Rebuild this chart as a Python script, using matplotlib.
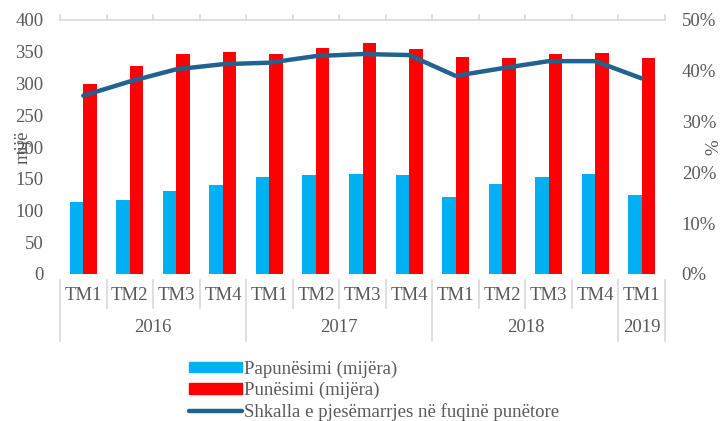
import matplotlib.pyplot as plt
import matplotlib.transforms as mtransforms
from matplotlib.patches import Patch
from matplotlib.lines import Line2D
import numpy as np

# data
quarters = ['TM1', 'TM2', 'TM3', 'TM4', 'TM1', 'TM2', 'TM3', 'TM4',
            'TM1', 'TM2', 'TM3', 'TM4', 'TM1']
years = ['2016', '2017', '2018', '2019']
year_counts = [4, 4, 4, 1]
unemployed = [114, 116, 130, 140, 152, 156, 157, 156, 122, 142, 153, 158, 125]
employed = [299, 327, 346, 349, 347, 356, 364, 355, 341, 340, 346, 348, 340]
participation = [35.1, 37.9, 40.3, 41.3, 41.6, 42.9, 43.3, 43.1, 39.0, 40.5, 41.9, 41.9, 38.5]

plt.rcParams['font.family'] = ['Liberation Serif', 'DejaVu Serif']
gray = '#595959'
grid_gray = '#d9d9d9'
fs = 13.5

fig = plt.figure(figsize=(7.25, 4.21), dpi=100)
W, H = 725, 421
ax = fig.add_axes([60 / W, (H - 274) / H, 605 / W, 254 / H])
ax2 = ax.twinx()

n = len(quarters)
x = np.arange(n)
bw = 0.29
ax.bar(x - bw / 2, unemployed, bw, color='#00B0F0', zorder=2)
ax.bar(x + bw / 2, employed, bw, color='#FF0000', zorder=2)
ax2.plot(x, [p / 100 for p in participation], color='#22628f', lw=3.2,
         solid_capstyle='round', solid_joinstyle='round', zorder=3)

ax.set_xlim(-0.5, n - 0.5)
ax.set_ylim(0, 400)
ax.set_yticks(range(0, 401, 50))
ax2.set_ylim(0, 0.5)
ax2.set_yticks(np.arange(0, 0.51, 0.1))
ax2.set_yticklabels([f'{int(round(v * 100))}%' for v in np.arange(0, 0.51, 0.1)])

for a in (ax, ax2):
    for s in a.spines.values():
        s.set_visible(False)
ax.spines['top'].set_visible(True)
ax.spines['top'].set_color(grid_gray)
ax.spines['top'].set_linewidth(1.2)

ax.tick_params(axis='y', length=0, pad=12, labelsize=fs, labelcolor=gray)
ax2.tick_params(axis='y', length=0, pad=12, labelsize=fs, labelcolor=gray)
ax.set_xticks([])

ax.set_ylabel('mijë', fontsize=fs, color=gray, labelpad=-12)
ax2.set_ylabel('%', fontsize=fs, color=gray, labelpad=-8)

# category separators: small ticks on top, longer ones below
trans = mtransforms.blended_transform_factory(ax.transData, ax.transAxes)
px = 1 / 254  # one pixel in axes height units
for b in np.arange(-0.5, n, 1.0):
    ax.plot([b, b], [1, 1 + 5 * px], color=grid_gray, lw=1.2,
            transform=trans, clip_on=False)

year_edges = np.cumsum([0] + year_counts) - 0.5
for b in np.arange(-0.5, n, 1.0):
    bottom = -67 * px if b in year_edges else -34 * px
    ax.plot([b, b], [-6 * px, bottom], color=grid_gray, lw=1.2,
            transform=trans, clip_on=False)

for i, q in enumerate(quarters):
    ax.text(i, -21 * px, q, transform=trans, ha='center', va='center',
            fontsize=fs, color=gray)
for k, yr in enumerate(years):
    mid = (year_edges[k] + year_edges[k + 1]) / 2
    ax.text(mid, -54 * px, yr, transform=trans, ha='center', va='center',
            fontsize=fs, color=gray)

handles = [Patch(color='#00B0F0'), Patch(color='#FF0000'),
           Line2D([0], [0], color='#22628f', lw=3.2, solid_capstyle='round')]
labels = ['Papunësimi (mijëra)', 'Punësimi (mijëra)',
          'Shkalla e pjesëmarrjes në fuqinë punëtore']
leg = fig.legend(handles, labels, loc='upper left',
                 bbox_to_anchor=(180 / W, 1 - 351 / H), frameon=False,
                 fontsize=fs, handlelength=2.8, handleheight=0.5,
                 handletextpad=0.1, labelspacing=0.22, borderpad=0)
for t in leg.get_texts():
    t.set_color(gray)

fig.savefig('out.png', dpi=100)
